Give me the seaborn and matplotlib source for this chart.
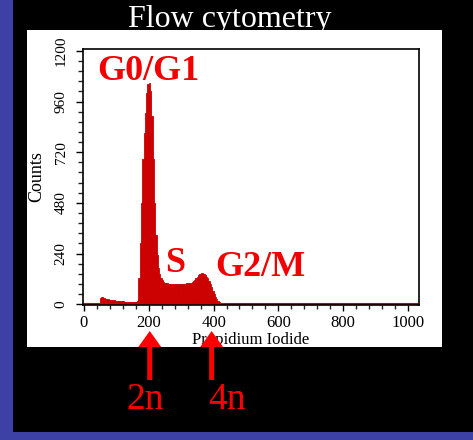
import numpy as np
import pandas as pd
import seaborn as sns
import matplotlib.pyplot as plt
from matplotlib.patches import Rectangle
from matplotlib.ticker import MultipleLocator

# DNA content histogram: counts per 4-channel bin of propidium iodide fluorescence
bin_width = 4
channels = list(range(48, 440, bin_width))
counts = [
    28, 36, 33, 29, 26, 24, 23, 21, 20, 19,
    19, 18, 17, 16, 15, 15, 14, 14, 13, 12,
    12, 11, 11, 10, 10, 9, 9, 10, 11, 15,
    125, 290, 480, 690, 810, 905, 1000, 1045, 1050, 1010,
    890, 690, 480, 330, 235, 172, 142, 124, 113, 106,
    101, 99, 98, 97, 96, 95, 95, 96, 94, 95,
    94, 95, 96, 95, 96, 97, 96, 98, 99, 100,
    102, 104, 108, 115, 124, 131, 136, 141, 146, 147,
    144, 139, 131, 122, 110, 95, 80, 63, 47, 34,
    23, 15, 9, 6, 4, 2, 1, 0,
]

# cell-cycle phase labels: (text, channel, count)
phase_labels = ["G0/G1", "S", "G2/M"]
phase_x = [40, 250, 404]
phase_y = [1063, 151, 132]

# ploidy markers under the axis
ploidy_labels = ["2n", "4n"]
ploidy_arrow_x = [203, 394]
ploidy_text_x = [188, 441]

hist_red = "#cc0000"
label_red = "#f20000"
border_blue = "#3d41a6"

df = pd.DataFrame({"channel": [c + bin_width / 2 for c in channels], "n_cells": counts})

sns.set_style("ticks")
plt.rcParams["font.family"] = ["Liberation Serif", "DejaVu Serif"]

W, H = 473, 440
fig = plt.figure(figsize=(W / 100, H / 100), dpi=100)
fig.patch.set_facecolor("black")

# slide frame: blue strips, white title, white panel behind the plot
fig.add_artist(Rectangle((0, 0), 13 / W, 1, transform=fig.transFigure,
                         facecolor=border_blue, edgecolor="none", zorder=-3))
fig.add_artist(Rectangle((0, 0), 1, 8 / H, transform=fig.transFigure,
                         facecolor=border_blue, edgecolor="none", zorder=-3))
fig.text(230 / W, 1 - 27 / H, "Flow cytometry", color="white", fontsize=23,
         ha="center", va="baseline", zorder=-2)
fig.add_artist(Rectangle((27 / W, 1 - 347 / H), 415 / W, 317 / H,
                         transform=fig.transFigure, facecolor="white",
                         edgecolor="none", zorder=-1))

ax = fig.add_axes([83 / W, 1 - 305 / H, 336 / W, 256 / H])
ax.set_facecolor("white")

# zero line of the histogram running across the whole channel range
ax.axhline(0, color=hist_red, linewidth=1.5, zorder=1.5)
sns.histplot(data=df, x="channel", weights="n_cells", binwidth=bin_width,
             binrange=(0, 1036), element="bars", fill=True, color=hist_red,
             edgecolor=hist_red, alpha=1, linewidth=0.6, shrink=1, ax=ax)

ax.set_xlim(-3, 1034)
ax.set_ylim(-4, 1209)

ax.xaxis.set_major_locator(MultipleLocator(200))
ax.xaxis.set_minor_locator(MultipleLocator(40))
ax.yaxis.set_major_locator(MultipleLocator(240))
ax.yaxis.set_minor_locator(MultipleLocator(48))

ax.tick_params(axis="x", which="major", direction="out", length=4, width=1,
               pad=3, labelsize=12, colors="black")
ax.tick_params(axis="x", which="minor", direction="out", length=3, width=1)
ax.tick_params(axis="y", which="major", direction="out", length=5, width=1,
               pad=6, labelsize=11, colors="black", labelrotation=90)
ax.tick_params(axis="y", which="minor", direction="out", length=3.5, width=1)
for lbl in ax.get_yticklabels():
    lbl.set_va("center")

for s in ax.spines.values():
    s.set_visible(True)
    s.set_color("black")
    s.set_linewidth(1.2)
    s.set_zorder(3)

ax.set_xlabel("Propidium Iodide", fontsize=12, color="black", va="top")
ax.xaxis.set_label_coords(0.5, -0.105)
ax.set_ylabel("Counts", fontsize=13, color="black")
ax.yaxis.set_label_coords(-0.113, 0.5)

for text, x, y in zip(phase_labels, phase_x, phase_y):
    ax.text(x, y, text, color=label_red, fontsize=26, fontweight="bold",
            ha="left", va="baseline")

for text, ax_x, tx in zip(ploidy_labels, ploidy_arrow_x, ploidy_text_x):
    ax.annotate("", xy=(ax_x, H - 331), xycoords=("data", "figure pixels"),
                xytext=(ax_x, H - 380), textcoords=("data", "figure pixels"),
                arrowprops=dict(facecolor="#ff0000", edgecolor="none",
                                width=3.6, headwidth=16.5, headlength=11.5,
                                shrink=0),
                annotation_clip=False)
    ax.annotate(text, xy=(tx, H - 409), xycoords=("data", "figure pixels"),
                ha="center", va="baseline", fontsize=27, color="#ff0000",
                annotation_clip=False)

fig.savefig("out.png", dpi=100, facecolor=fig.get_facecolor())
